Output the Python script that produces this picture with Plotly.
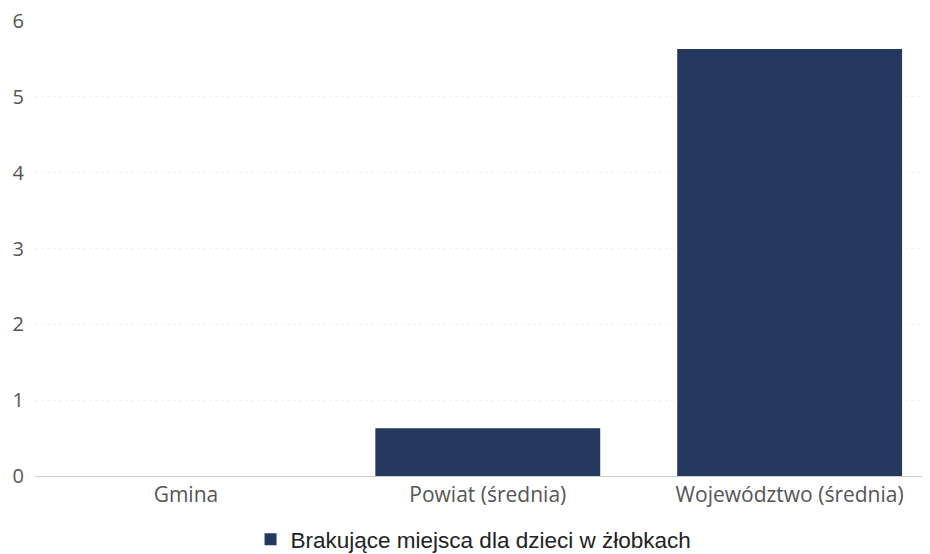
import plotly.graph_objects as go

categories = ["Gmina", "Powiat (średnia)", "Województwo (średnia)"]
values = [0, 0.63, 5.63]
series_name = "Brakujące miejsca dla dzieci w żłobkach"
y_ticks = [0, 1, 2, 3, 4, 5, 6]

fig = go.Figure()
fig.add_trace(go.Bar(
    x=categories, y=values, name=series_name,
    marker=dict(color="#25385d", line=dict(width=0)),
    width=0.745, showlegend=True,
))

# page body has an 8px margin, so the figure is sized 8px smaller
fig.update_layout(
    width=922, height=546,
    margin=dict(l=27, r=0, t=13, b=78, autoexpand=False),
    paper_bgcolor="white", plot_bgcolor="white",
    font=dict(family="Open Sans", size=21, color="#555555"),
    showlegend=True,
    legend=dict(orientation="h", x=0.49, xanchor="center", y=-0.14, yanchor="middle",
                font=dict(family="Liberation Sans", size=22.5, color="#222222")),
    xaxis=dict(range=[-0.5, 2.465], showline=True, linecolor="#cccccc", linewidth=1,
               ticks="", showgrid=False, automargin=False,
               tickfont=dict(size=21, color="#555555")),
    yaxis=dict(range=[0, 6], tickvals=y_ticks, showgrid=True, gridcolor="#f2f2f2",
               griddash="dot", zeroline=False, ticks="", ticklabelstandoff=10,
               ticklabeloverflow="allow",
               automargin=False, tickfont=dict(size=20, color="#555555")),
)

fig.write_html("out.html")
